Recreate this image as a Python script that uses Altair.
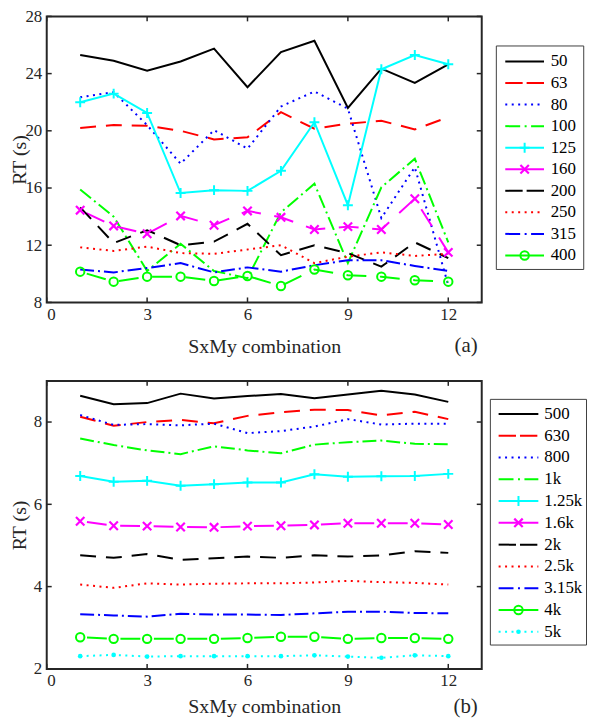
import altair as alt
import pandas as pd

combo = list(range(1, 13))

# ---------------- panel (a) ----------------
top_names = ["50", "63", "80", "100", "125", "160", "200", "250", "315", "400"]
rt_50 = [25.3, 24.9, 24.2, 24.85, 25.75, 23.05, 25.5, 26.3, 21.6, 24.35, 23.35, 24.65]
rt_63 = [20.2, 20.4, 20.35, 20.0, 19.4, 19.55, 21.3, 20.15, 20.5, 20.7, 20.1, 20.95]
rt_80 = [22.35, 22.7, 20.4, 17.7, 20.05, 18.75, 21.7, 22.75, 21.55, 13.9, 17.45, 9.2]
rt_100 = [15.9, 14.0, 10.2, 12.1, 10.2, 9.7, 14.3, 16.3, 10.75, 16.05, 18.05, 12.2]
rt_125 = [22.0, 22.6, 21.25, 15.65, 15.85, 15.8, 17.2, 20.6, 14.8, 24.3, 25.3, 24.65]
rt_160 = [14.45, 13.35, 12.8, 14.05, 13.4, 14.4, 13.95, 13.1, 13.3, 13.1, 15.25, 11.5]
rt_200 = [14.65, 12.15, 13.05, 12.0, 12.25, 13.5, 11.3, 12.0, 11.45, 10.5, 12.2, 11.1]
rt_250 = [11.85, 11.6, 11.9, 11.45, 11.4, 11.7, 12.0, 10.75, 11.2, 11.5, 11.25, 11.4]
rt_315 = [10.3, 10.1, 10.4, 10.75, 10.1, 10.45, 10.15, 10.6, 10.95, 10.95, 10.55, 10.2]
rt_400 = [10.15, 9.45, 9.8, 9.8, 9.5, 9.85, 9.15, 10.3, 9.9, 9.8, 9.55, 9.45]
top_values = [rt_50, rt_63, rt_80, rt_100, rt_125, rt_160, rt_200, rt_250, rt_315, rt_400]
top_yticks = [8, 12, 16, 20, 24, 28]

# ---------------- panel (b) ----------------
bot_names = ["500", "630", "800", "1k", "1.25k", "1.6k", "2k", "2.5k", "3.15k", "4k", "5k"]
rt_500 = [8.64, 8.43, 8.46, 8.69, 8.57, 8.63, 8.68, 8.58, 8.67, 8.76, 8.67, 8.49]
rt_630 = [8.13, 7.91, 8.0, 8.05, 7.97, 8.15, 8.24, 8.3, 8.29, 8.16, 8.25, 8.07]
rt_800 = [8.17, 7.93, 7.95, 7.92, 7.96, 7.73, 7.78, 7.89, 8.07, 7.94, 7.96, 7.96]
rt_1k = [7.6, 7.44, 7.31, 7.22, 7.41, 7.31, 7.24, 7.45, 7.51, 7.55, 7.47, 7.46]
rt_1250 = [6.69, 6.55, 6.57, 6.45, 6.49, 6.53, 6.53, 6.73, 6.67, 6.68, 6.69, 6.74]
rt_1600 = [5.59, 5.48, 5.47, 5.45, 5.44, 5.47, 5.48, 5.5, 5.54, 5.54, 5.54, 5.51]
rt_2k = [4.76, 4.7, 4.79, 4.65, 4.69, 4.73, 4.7, 4.76, 4.73, 4.76, 4.86, 4.82]
rt_2500 = [4.05, 3.97, 4.08, 4.05, 4.07, 4.08, 4.08, 4.1, 4.14, 4.11, 4.09, 4.05]
rt_3150 = [3.33, 3.3, 3.27, 3.34, 3.32, 3.32, 3.31, 3.35, 3.39, 3.39, 3.36, 3.35]
rt_4k = [2.77, 2.73, 2.73, 2.73, 2.73, 2.75, 2.78, 2.78, 2.73, 2.75, 2.75, 2.73]
rt_5k = [2.31, 2.34, 2.3, 2.31, 2.31, 2.31, 2.31, 2.33, 2.3, 2.27, 2.33, 2.31]
bot_values = [rt_500, rt_630, rt_800, rt_1k, rt_1250, rt_1600, rt_2k, rt_2500, rt_3150, rt_4k, rt_5k]
bot_yticks = [2, 4, 6, 8]

x_ticks = [0, 3, 6, 9, 12]

# ---------------- styles ----------------
FONT = "Liberation Serif, Times New Roman, serif"
INK = "#262626"
W = 438
H_TOP = 288
H_BOT = 290

BLACK, RED, BLUE, GREEN, CYAN, MAGENTA = "#000000", "#FF0000", "#0000FF", "#00FF00", "#00FFFF", "#FF00FF"
SOLID = None
DASH = [16, 10]
DOT = [2, 4.5]
DASHDOT = [14, 4, 2, 4]
MDASH = [20, 13.7]          # dashed line whose gaps sit on the markers
MDASH_OFF = 26.85
LEG_DASH = [17.5, 4]
LEG_DASHDOT = [15, 4.5, 2, 4.5]

PLUS = "M-1,0L1,0M0,-1L0,1"
CROSS = "M-1,-1L1,1M-1,1L1,-1"


def style(color, dash, marker=None, offset=None, leg_dash="same"):
    return dict(color=color, dash=dash, marker=marker, offset=offset,
                leg_dash=(dash if leg_dash == "same" else leg_dash))


top_styles = {
    "50": style(BLACK, SOLID),
    "63": style(RED, DASH, leg_dash=LEG_DASH),
    "80": style(BLUE, DOT),
    "100": style(GREEN, DASHDOT, leg_dash=LEG_DASHDOT),
    "125": style(CYAN, SOLID, "plus"),
    "160": style(MAGENTA, MDASH, "cross", MDASH_OFF, leg_dash=None),
    "200": style(BLACK, DASH, leg_dash=LEG_DASH),
    "250": style(RED, DOT),
    "315": style(BLUE, DASHDOT, leg_dash=LEG_DASHDOT),
    "400": style(GREEN, MDASH, "circle", MDASH_OFF, leg_dash=None),
}
bot_styles = {
    "500": style(BLACK, SOLID),
    "630": style(RED, DASH, leg_dash=LEG_DASH),
    "800": style(BLUE, DOT),
    "1k": style(GREEN, DASHDOT, leg_dash=LEG_DASHDOT),
    "1.25k": style(CYAN, SOLID, "plus"),
    "1.6k": style(MAGENTA, MDASH, "cross", MDASH_OFF, leg_dash=None),
    "2k": style(BLACK, DASH, leg_dash=LEG_DASH),
    "2.5k": style(RED, DOT),
    "3.15k": style(BLUE, DASHDOT, leg_dash=LEG_DASHDOT),
    "4k": style(GREEN, MDASH, "circle", MDASH_OFF, leg_dash=None),
    "5k": style(CYAN, DOT, "dot"),
}


def marker_props(kind, color):
    if kind == "plus":
        return dict(shape=PLUS, size=100, filled=False, stroke=color, strokeWidth=2, opacity=1)
    if kind == "cross":
        return dict(shape=CROSS, size=72, filled=False, stroke=color, strokeWidth=2.2, opacity=1)
    if kind == "circle":
        return dict(shape="circle", size=72, filled=False, stroke=color, strokeWidth=2, opacity=1)
    return dict(shape="circle", size=22, filled=True, fill=color, strokeWidth=0, opacity=1)


def panel(names, values, styles, ydomain, yticks, H, tag, leg, title_y):
    df = pd.DataFrame({
        "combo": [c for _ in names for c in combo],
        "series": [n for n in names for _ in combo],
        "rt": [v for vals in values for v in vals],
    })
    xs = alt.Scale(domain=[0, 13], nice=False, zero=False)
    ys = alt.Scale(domain=ydomain, nice=False, zero=False)
    X = alt.X("combo:Q", scale=xs,
              axis=alt.Axis(values=x_ticks, format="d", title="SxMy combination",
                            labelPadding=4, titleY=title_y, titleBaseline="alphabetic"))
    Y = alt.Y("rt:Q", scale=ys,
              axis=alt.Axis(values=yticks, format="d", title="RT (s)",
                            labelPadding=5, titleX=-21, titleY=H / 2,
                            titleBaseline="alphabetic"))
    base = alt.Chart(df)
    layers = []
    for name in names:
        st = styles[name]
        props = dict(color=st["color"], strokeWidth=2)
        if st["dash"]:
            props["strokeDash"] = st["dash"]
        if st["offset"]:
            props["strokeDashOffset"] = st["offset"]
        layers.append(base.transform_filter(alt.datum.series == name)
                      .mark_line(**props).encode(x=X, y=Y))
    for name in names:
        st = styles[name]
        if st["marker"]:
            layers.append(base.transform_filter(alt.datum.series == name)
                          .mark_point(**marker_props(st["marker"], st["color"]))
                          .encode(x=X, y=Y))
    # inward ticks on all four sides
    xt = alt.Chart(pd.DataFrame({"combo": x_ticks}))
    yt = alt.Chart(pd.DataFrame({"rt": yticks}))
    tick = dict(color=INK, strokeWidth=1.5)
    layers += [
        xt.mark_rule(**tick).encode(x=X, y=alt.value(H), y2=alt.value(H - 5)),
        xt.mark_rule(**tick).encode(x=X, y=alt.value(0), y2=alt.value(5)),
        yt.mark_rule(**tick).encode(y=Y, x=alt.value(0), x2=alt.value(5)),
        yt.mark_rule(**tick).encode(y=Y, x=alt.value(W), x2=alt.value(W - 5)),
    ]
    layers.append(alt.Chart(pd.DataFrame({"t": [tag]})).mark_text(
        font=FONT, fontSize=21, color=INK, align="right", baseline="alphabetic")
        .encode(text="t:N", x=alt.value(W - 4), y=alt.value(H + title_y)))
    main = alt.layer(*layers)

    # legend (rows on their own scale)
    n = len(names)
    ldf = pd.DataFrame({"series": names, "i": list(range(n))})
    LY = alt.Y("i:Q", scale=alt.Scale(domain=[0, n - 1],
                                      range=[leg["y0"], leg["y0"] + (n - 1) * leg["dy"]]),
               axis=None)
    lbase = alt.Chart(ldf)
    box = pd.DataFrame({"i": [leg["r0"]], "i2": [leg["r1"]]})
    llayers = [alt.Chart(box).mark_rect(
        fill="white", stroke="#404040", strokeWidth=1).encode(
        y=LY, y2="i2:Q",
        x=alt.value(leg["bx0"]), x2=alt.value(leg["bx1"]))]
    for name in names:
        st = styles[name]
        props = dict(color=st["color"], strokeWidth=2)
        if st["leg_dash"]:
            props["strokeDash"] = st["leg_dash"]
        llayers.append(lbase.transform_filter(alt.datum.series == name)
                       .mark_rule(**props)
                       .encode(y=LY, x=alt.value(leg["lx0"]), x2=alt.value(leg["lx1"])))
        if st["marker"]:
            llayers.append(lbase.transform_filter(alt.datum.series == name)
                           .mark_point(**marker_props(st["marker"], st["color"]))
                           .encode(y=LY, x=alt.value((leg["lx0"] + leg["lx1"]) / 2)))
    llayers.append(lbase.mark_text(font=FONT, fontSize=17, color="#000000",
                                   align="left", baseline="middle")
                   .encode(text="series:N", y=LY, x=alt.value(leg["tx"])))
    legend = alt.layer(*llayers)
    return alt.layer(main, legend).resolve_scale(y="independent").properties(width=W, height=H)


top = panel(top_names, top_values, top_styles, [8, 28], top_yticks, H_TOP, "(a)",
            dict(bx0=452.7, bx1=540.7, r0=-0.72, r1=9.65,
                 lx0=461.7, lx1=500.7, tx=507.4, y0=45.4, dy=21.7), 50)
bottom = panel(bot_names, bot_values, bot_styles, [2, 9], bot_yticks, H_BOT, "(b)",
               dict(bx0=446.7, bx1=543.5, r0=-0.67, r1=10.61,
                    lx0=455, lx1=495, tx=501, y0=33.3, dy=21.93), 44)

chart = alt.vconcat(top, bottom, spacing=79, bounds="flush").properties(
    padding={"left": 1, "top": -4, "right": 0, "bottom": 0}
).configure_view(stroke=INK, strokeWidth=2).configure_axis(
    labelFont=FONT, titleFont=FONT, labelFontSize=17, titleFontSize=20,
    titleFontWeight="normal", labelColor=INK, titleColor=INK,
    grid=False, ticks=False, domain=False,
)

chart.save("out.html", embed_options={"renderer": "svg", "actions": False})
